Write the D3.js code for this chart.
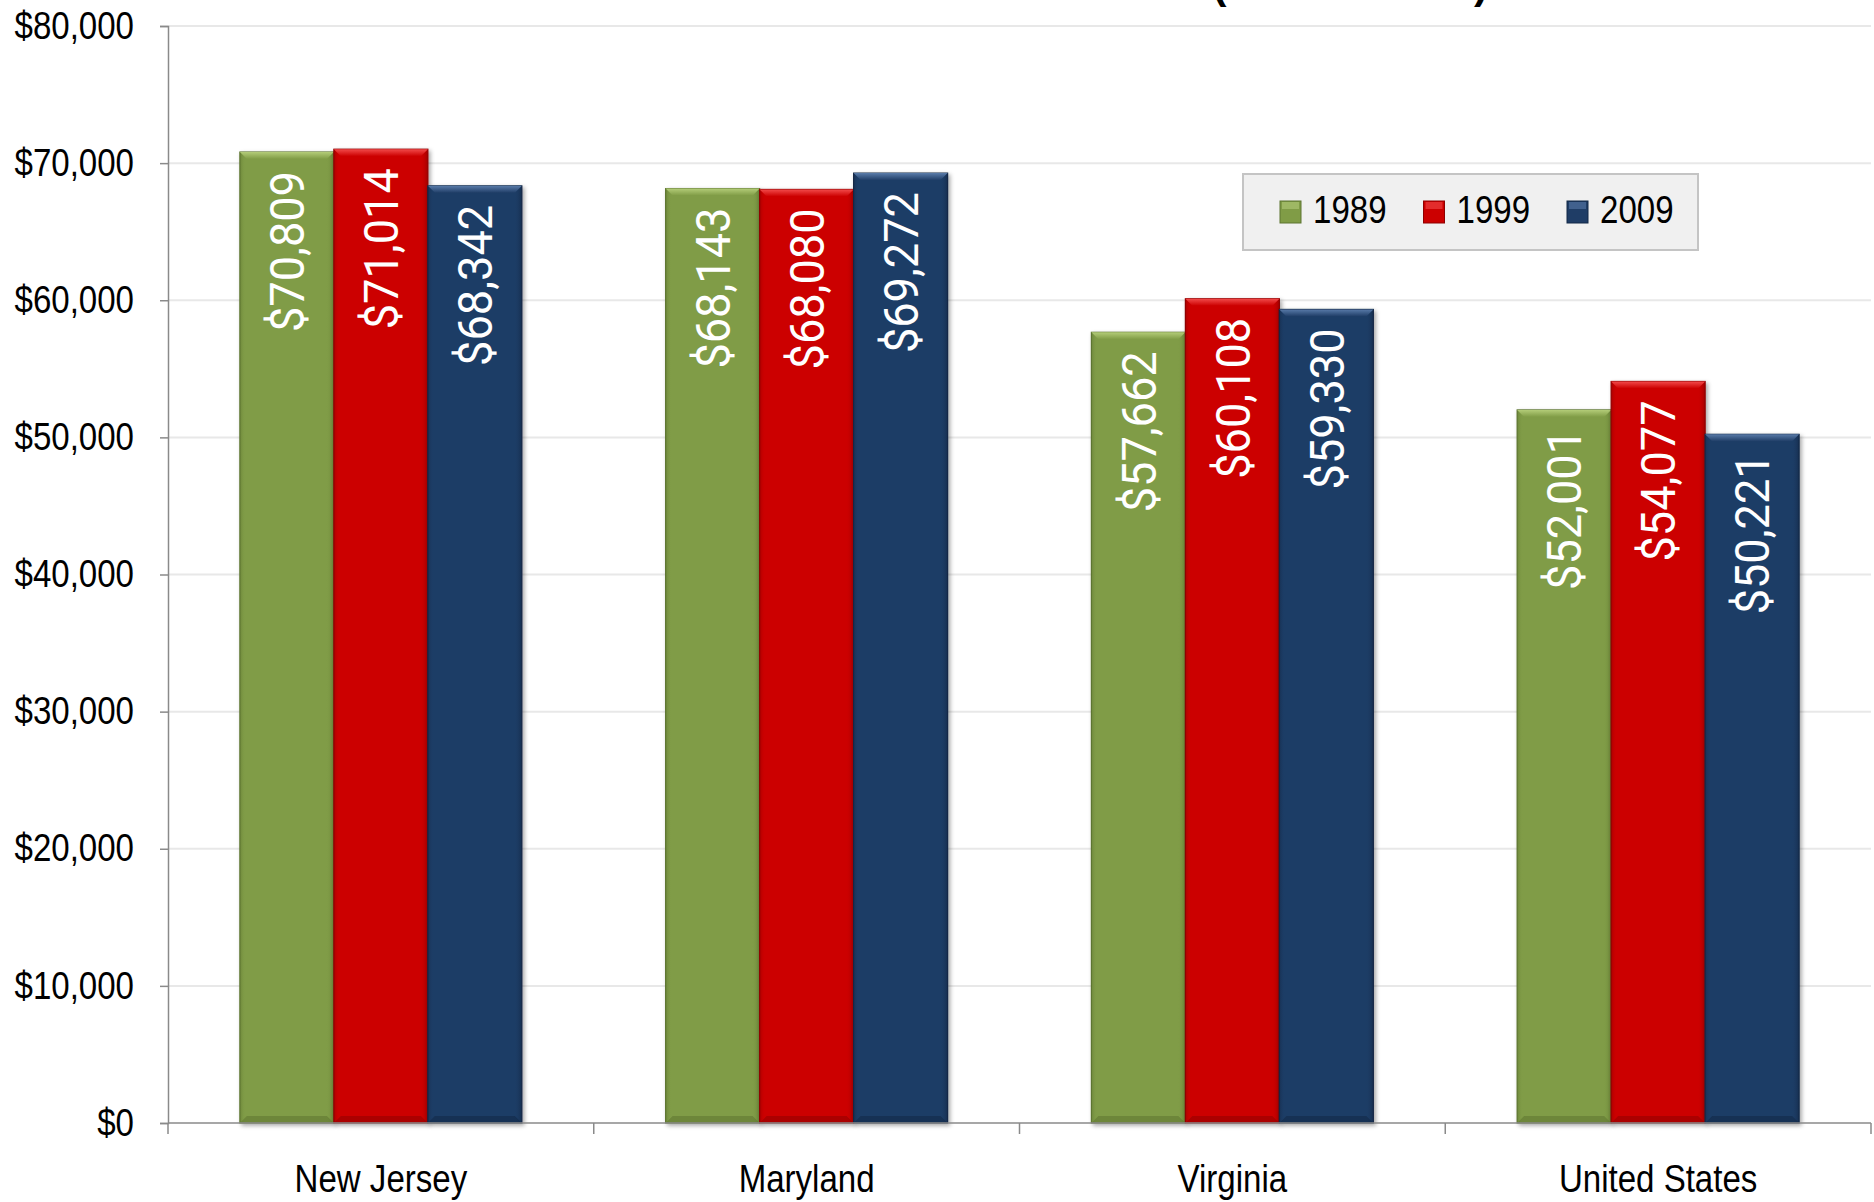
<!DOCTYPE html>
<html>
<head>
<meta charset="utf-8">
<script src="https://cdn.jsdelivr.net/npm/d3@7"></script>
<style>
  html, body { margin: 0; padding: 0; background: #fff; }
  svg { display: block; }
  .narrow { font-family: "Liberation Sans Narrow", "Arial Narrow", "Liberation Sans", sans-serif; }
</style>
</head>
<body>
<svg id="chart" width="1874" height="1202"></svg>
<script>
// Median household income by area, three census years
const categories = ["New Jersey", "Maryland", "Virginia", "United States"];
const years = ["1989", "1999", "2009"];
const income1989 = [70809, 68143, 57662, 52001];
const income1999 = [71014, 68080, 60108, 54077];
const income2009 = [68342, 69272, 59330, 50221];
const yTicks = [0, 10000, 20000, 30000, 40000, 50000, 60000, 70000, 80000];
const titleText = "Median Household Income (2009 Dollars)";

const seriesValues = { "1989": income1989, "1999": income1999, "2009": income2009 };
const palette = {
  "1989": { base: "#809c46", light: "#b3cc78", dark: "#5d7530" },
  "1999": { base: "#cc0000", light: "#f24a4a", dark: "#8f0000" },
  "2009": { base: "#1f3d66", light: "#587aa8", dark: "#132846" }
};

// condensed look for axis / legend text
const condense = 0.87;
const labelSize = 38;

const svg = d3.select("#chart");
const plotLeft = 168, plotRight = 1871, plotTop = 26, plotBottom = 1123;

const x = d3.scaleBand().domain(categories).range([plotLeft, plotRight]).padding(0);
const xSub = d3.scaleBand().domain(years).range([0, x.bandwidth()])
  .paddingInner(0).paddingOuter(0.765);
const y = d3.scaleLinear().domain([0, 80000]).range([plotBottom, plotTop]);

const defs = svg.append("defs");
const shadow = defs.append("filter").attr("id", "barShadow")
  .attr("x", "-10%").attr("y", "-5%").attr("width", "130%").attr("height", "115%");
shadow.append("feDropShadow").attr("dx", 2).attr("dy", 2).attr("stdDeviation", 2)
  .attr("flood-color", "#000").attr("flood-opacity", 0.35);

years.forEach(yr => {
  const c = palette[yr];
  const g = defs.append("linearGradient").attr("id", "side" + yr)
    .attr("x1", 0).attr("x2", 1).attr("y1", 0).attr("y2", 0);
  g.append("stop").attr("offset", "0%").attr("stop-color", c.dark).attr("stop-opacity", 0.55);
  g.append("stop").attr("offset", "6%").attr("stop-color", c.base).attr("stop-opacity", 0);
  g.append("stop").attr("offset", "92%").attr("stop-color", c.base).attr("stop-opacity", 0);
  g.append("stop").attr("offset", "100%").attr("stop-color", c.dark).attr("stop-opacity", 0.7);
  const t = defs.append("linearGradient").attr("id", "topBevel" + yr)
    .attr("x1", 0).attr("x2", 0).attr("y1", 0).attr("y2", 1);
  t.append("stop").attr("offset", "0%").attr("stop-color", c.light);
  t.append("stop").attr("offset", "100%").attr("stop-color", c.base);
});

// Title (sits mostly above the visible area)
svg.append("text")
  .attr("x", 1488).attr("y", -2)
  .attr("text-anchor", "end")
  .attr("font-family", "Liberation Sans, Arial, sans-serif")
  .attr("font-weight", "bold")
  .attr("font-size", 42)
  .attr("fill", "#000")
  .text(titleText);

// Horizontal gridlines
svg.append("g").selectAll("line").data(yTicks.filter(d => d > 0)).join("line")
  .attr("x1", plotLeft).attr("x2", plotRight)
  .attr("y1", d => y(d)).attr("y2", d => y(d))
  .attr("stroke", "#e8e8e8").attr("stroke-width", 2);

// Y axis
const yAxis = svg.append("g").attr("class", "narrow")
  .attr("transform", `translate(${plotLeft},0)`)
  .call(d3.axisLeft(y).tickValues(yTicks).tickSize(8).tickPadding(26)
    .tickFormat(d3.format("$,")));
yAxis.attr("font-family", null);
yAxis.select(".domain").attr("stroke", "#8a8a8a").attr("stroke-width", 1.5);
yAxis.selectAll(".tick line").attr("stroke", "#8a8a8a").attr("stroke-width", 1.5);
yAxis.selectAll(".tick text")
  .attr("font-size", labelSize).attr("fill", "#000")
  .attr("x", 0)
  .attr("transform", `translate(-34,0) scale(${condense},1)`);

// Bars
const rows = [];
categories.forEach((cat, i) => {
  years.forEach(yr => rows.push({ cat, yr, value: seriesValues[yr][i] }));
});

const barG = svg.append("g");
const bar = barG.selectAll("g.bar").data(rows).join("g").attr("class", "bar");

const bx = d => x(d.cat) + xSub(d.yr);
const bw = xSub.bandwidth();
const bev = 7;

bar.append("rect")
  .attr("x", bx).attr("y", d => y(d.value))
  .attr("width", bw).attr("height", d => y(0) - y(d.value))
  .attr("fill", d => palette[d.yr].base)
  .attr("stroke", d => palette[d.yr].dark).attr("stroke-width", 1.2)
  .attr("filter", "url(#barShadow)");

bar.append("rect")
  .attr("x", bx).attr("y", d => y(d.value))
  .attr("width", bw).attr("height", d => y(0) - y(d.value))
  .attr("fill", d => `url(#side${d.yr})`);

// top bevel
bar.append("path")
  .attr("d", d => {
    const x0 = bx(d), y0 = y(d.value);
    return `M${x0},${y0}L${x0 + bw},${y0}L${x0 + bw - bev},${y0 + bev}L${x0 + bev},${y0 + bev}Z`;
  })
  .attr("fill", d => `url(#topBevel${d.yr})`);

// bottom bevel
bar.append("path")
  .attr("d", d => {
    const x0 = bx(d), y1 = y(0);
    return `M${x0},${y1}L${x0 + bw},${y1}L${x0 + bw - bev},${y1 - bev}L${x0 + bev},${y1 - bev}Z`;
  })
  .attr("fill", d => palette[d.yr].dark).attr("opacity", 0.55);

// Value labels inside bars
bar.append("text")
  .attr("transform", d => `translate(${bx(d) + bw / 2},${y(d.value) + 19}) rotate(-90) scale(0.94,1)`)
  .attr("text-anchor", "end")
  .attr("dy", "0.36em")
  .attr("font-family", "Roboto, 'Open Sans', sans-serif")
  .attr("font-size", 48)
  .attr("fill", "#fff")
  .text(d => d3.format("$,")(d.value));

// X axis baseline and category boundary ticks
const xAxis = svg.append("g");
xAxis.append("line")
  .attr("x1", plotLeft).attr("x2", plotRight).attr("y1", plotBottom).attr("y2", plotBottom)
  .attr("stroke", "#8a8a8a").attr("stroke-width", 1.5);
const boundaries = categories.map(c => x(c)).concat([x.range()[1]]);
xAxis.selectAll("line.tick").data(boundaries).join("line").attr("class", "tick")
  .attr("x1", d => d).attr("x2", d => d)
  .attr("y1", plotBottom).attr("y2", plotBottom + 11)
  .attr("stroke", "#8a8a8a").attr("stroke-width", 1.5);
xAxis.selectAll("text").data(categories).join("text")
  .attr("class", "narrow")
  .attr("transform", d => `translate(${x(d) + x.bandwidth() / 2},1192) scale(${condense},1)`)
  .attr("text-anchor", "middle")
  .attr("font-size", labelSize)
  .attr("fill", "#000")
  .text(d => d);

// Legend
const legend = svg.append("g").attr("class", "narrow");
legend.append("rect")
  .attr("x", 1243).attr("y", 174).attr("width", 455).attr("height", 76)
  .attr("fill", "#f0f0f0").attr("stroke", "#c4c4c4").attr("stroke-width", 2);
const item = legend.selectAll("g.item").data(years).join("g").attr("class", "item")
  .attr("transform", (d, i) => `translate(${1280 + i * 143.5},201)`);
item.append("rect")
  .attr("width", 21).attr("height", 22)
  .attr("fill", d => palette[d].base)
  .attr("stroke", d => palette[d].dark).attr("stroke-width", 1);
item.append("rect")
  .attr("x", 2).attr("y", 1).attr("width", 17).attr("height", 7)
  .attr("fill", d => palette[d].light).attr("opacity", 0.6);
item.append("text")
  .attr("transform", `translate(33,22) scale(${condense},1)`)
  .attr("font-size", labelSize)
  .attr("fill", "#000")
  .text(d => d);
</script>
</body>
</html>
